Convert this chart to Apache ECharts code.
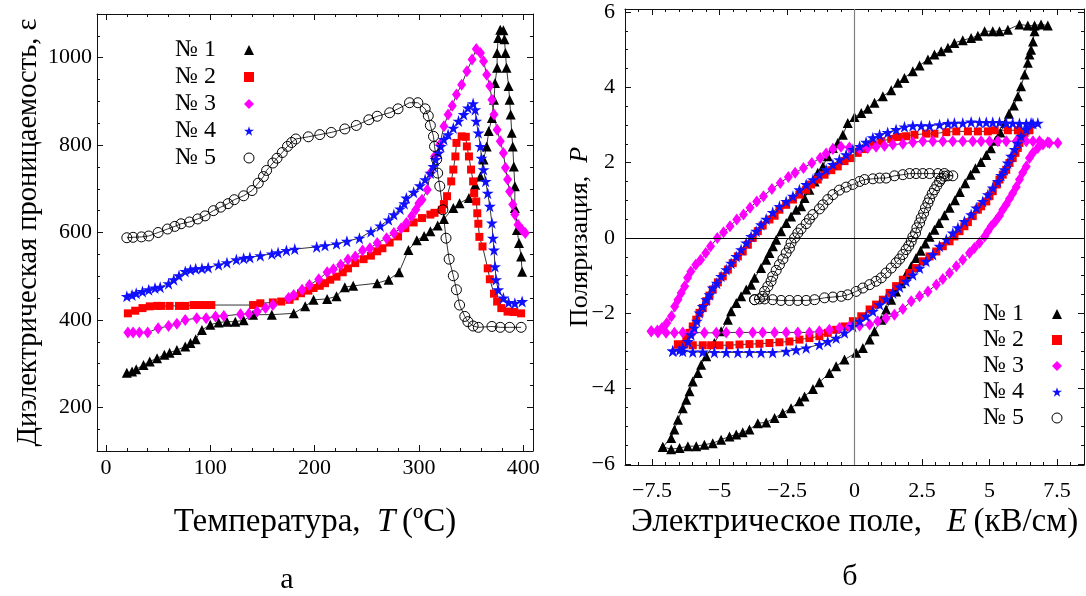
<!DOCTYPE html>
<html>
<head>
<meta charset="utf-8">
<script src="https://cdn.jsdelivr.net/npm/echarts@6/dist/echarts.min.js"></script>
<style>
  html, body { margin: 0; padding: 0; background: #fff; }
  #chart { width: 1086px; height: 596px; }
</style>
</head>
<body>
<div id="chart"></div>
<script>
// Sample labels
const sampleNames = ['№ 1', '№ 2', '№ 3', '№ 4', '№ 5'];

// (а) dielectric permittivity ε versus temperature T, °C — [T, ε]
const epsSample1 = [[20,279],[25,282],[29,287],[36,297],[42,305],[49,312],[56,320],[61,325],[68,331],[76,339],[81,347],[86,356],[92,377],[100,389],[108,394],[116,396],[124,396],[132,399],[141,412],[159,412],[180,415],[191,431],[199,446],[212,448],[221,454],[229,475],[237,478],[260,484],[271,492],[281,509],[290,560],[298,582],[305,592],[311,603],[318,616],[324,631],[333,656],[339,667],[348,679],[354,709],[359,728],[362,767],[365,797],[367,832],[370,862],[372,904],[373,942],[375,977],[375,1011],[376,1045],[378,1064],[381,1063],[382,1042],[383,1011],[384,977],[386,935],[387,904],[388,870],[389,828],[390,797],[391,751],[392,706],[392,656],[394,606],[396,576],[398,545],[399,510]];
const epsSample2 = [[21,415],[28,421],[35,427],[42,431],[49,432],[53,432],[61,432],[70,432],[76,432],[84,434],[90,434],[95,434],[101,434],[141,434],[148,438],[160,440],[168,442],[176,446],[181,454],[187,461],[194,467],[199,473],[205,478],[210,484],[215,492],[221,499],[227,509],[232,518],[239,530],[247,539],[254,547],[260,557],[265,564],[272,577],[280,591],[287,610],[295,623],[303,633],[311,641],[315,645],[322,652],[324,665],[327,683],[331,717],[333,744],[335,774],[336,805],[341,820],[345,819],[346,797],[348,774],[350,744],[352,717],[353,690],[355,671],[356,644],[357,620],[358,590],[361,568],[366,518],[368,493],[372,460],[375,442],[379,427],[385,419],[391,418],[398,415]];
const epsSample3 = [[21,371],[26,371],[32,371],[40,371],[50,381],[60,386],[68,391],[76,400],[87,404],[96,404],[105,408],[113,409],[129,413],[137,414],[145,419],[153,427],[160,434],[175,450],[180,457],[188,469],[195,480],[204,493],[212,509],[218,516],[225,526],[232,538],[239,545],[246,559],[253,564],[260,576],[269,587],[276,599],[283,610],[288,622],[293,637],[297,652],[300,667],[303,675],[308,698],[311,736],[315,774],[320,801],[324,843],[328,870],[332,890],[336,916],[341,938],[346,969],[351,996],[355,1020],[359,1011],[362,992],[365,961],[368,935],[370,904],[372,870],[375,835],[378,809],[381,782],[383,748],[385,721],[387,694],[390,664],[392,641],[395,618],[399,606],[402,599]];
const epsSample4 = [[20,454],[25,457],[29,461],[35,465],[41,469],[47,473],[52,475],[60,483],[65,492],[70,501],[76,511],[81,515],[86,517],[92,518],[98,520],[108,526],[116,531],[125,538],[132,541],[138,543],[148,547],[159,551],[165,554],[173,559],[181,562],[202,567],[210,570],[221,574],[231,580],[243,587],[254,602],[263,615],[271,629],[276,641],[282,654],[286,666],[288,679],[295,692],[301,707],[306,721],[311,736],[314,751],[316,767],[319,782],[321,797],[324,813],[328,824],[333,839],[338,855],[343,870],[347,885],[352,895],[354,881],[355,855],[357,828],[359,797],[360,770],[362,744],[364,717],[366,690],[368,660],[370,622],[371,587],[372,560],[373,522],[374,492],[376,469],[381,450],[386,440],[392,438],[399,442]];
const epsSample5 = [[20,588],[26,589],[34,590],[41,592],[50,600],[59,608],[66,614],[72,620],[80,624],[88,631],[95,638],[103,650],[110,658],[117,666],[123,675],[132,684],[140,696],[146,713],[151,728],[154,742],[160,759],[164,770],[169,783],[174,797],[178,806],[182,814],[194,819],[205,824],[216,829],[229,837],[240,845],[252,858],[260,866],[272,874],[280,883],[291,897],[299,897],[306,883],[309,867],[311,845],[314,820],[315,797],[317,767],[318,736],[320,706],[323,652],[326,587],[329,539],[333,501],[336,469],[339,434],[344,408],[347,396],[352,386],[357,383],[370,385],[378,383],[387,383],[398,383]];

// (б) polarization P versus electric field E, kV/cm — [E, P], traced round each loop
const polSample1 = [[-7.10,-5.55],[-6.79,-5.31],[-6.67,-5.09],[-6.54,-4.83],[-6.36,-4.52],[-6.23,-4.30],[-6.11,-4.07],[-5.99,-3.81],[-5.80,-3.59],[-5.68,-3.37],[-5.49,-3.14],[-5.19,-2.79],[-4.94,-2.48],[-4.69,-2.17],[-4.57,-1.95],[-4.38,-1.73],[-4.20,-1.55],[-4.01,-1.37],[-3.83,-1.24],[-3.70,-1.06],[-3.46,-0.80],[-3.27,-0.58],[-3.15,-0.40],[-3.02,-0.22],[-2.90,-0.05],[-2.72,0.18],[-2.53,0.40],[-2.35,0.57],[-2.16,0.75],[-1.98,0.84],[-1.85,1.06],[-1.67,1.28],[-1.48,1.50],[-1.36,1.73],[-1.17,1.90],[-0.99,2.17],[-0.80,2.39],[-0.62,2.52],[-0.43,2.74],[-0.25,3.05],[0,3.21],[0.25,3.32],[0.49,3.43],[0.74,3.59],[1.05,3.76],[1.36,3.92],[1.61,4.12],[1.85,4.25],[2.16,4.43],[2.41,4.58],[2.72,4.74],[2.96,4.87],[3.21,4.96],[3.46,5.05],[3.70,5.18],[4.01,5.25],[4.32,5.31],[4.57,5.37],[4.82,5.49],[5.12,5.49],[5.37,5.49],[5.68,5.53],[6.11,5.67],[6.42,5.64],[6.67,5.64],[6.91,5.67],[7.16,5.64],[6.67,5.49],[6.61,5.22],[6.54,5.00],[6.48,4.87],[6.42,4.65],[6.30,4.34],[6.17,4.03],[6.05,3.76],[5.90,3.52],[5.72,3.30],[5.58,3.05],[5.40,2.80],[5.22,2.58],[5.05,2.38],[4.88,2.20],[4.68,2.02],[4.48,1.85],[4.30,1.68],[4.10,1.45],[3.90,1.22],[3.72,1.00],[3.52,0.80],[3.33,0.60],[3.13,0.40],[2.96,0.22],[2.78,0.03],[2.62,-0.15],[2.45,-0.34],[2.28,-0.53],[2.10,-0.75],[1.91,-0.97],[1.73,-1.20],[1.54,-1.42],[1.36,-1.64],[1.17,-1.90],[0.99,-2.17],[0.74,-2.48],[0.56,-2.70],[0.31,-2.92],[0.06,-3.05],[-0.37,-3.23],[-0.68,-3.41],[-0.93,-3.59],[-1.30,-3.83],[-1.54,-4.01],[-1.85,-4.21],[-2.04,-4.34],[-2.35,-4.52],[-2.66,-4.65],[-2.96,-4.78],[-3.27,-4.90],[-3.58,-4.92],[-3.89,-5.09],[-4.14,-5.16],[-4.38,-5.22],[-4.63,-5.27],[-4.94,-5.36],[-5.25,-5.45],[-5.56,-5.49],[-5.86,-5.53],[-6.17,-5.53],[-6.48,-5.58],[-6.79,-5.61],[-7.10,-5.55]];
const polSample2 = [[-6.54,-2.83],[-6.30,-2.83],[-5.99,-2.85],[-5.62,-2.85],[-5.31,-2.85],[-5.00,-2.85],[-4.63,-2.85],[-4.26,-2.83],[-3.89,-2.82],[-3.52,-2.81],[-3.15,-2.79],[-2.78,-2.77],[-2.41,-2.75],[-2.04,-2.70],[-1.67,-2.66],[-1.30,-2.61],[-0.99,-2.52],[-0.68,-2.44],[-0.37,-2.35],[-0.06,-2.21],[0.25,-2.08],[0.56,-1.90],[0.80,-1.77],[1.05,-1.64],[1.30,-1.46],[1.54,-1.28],[1.79,-1.11],[2.04,-0.93],[2.28,-0.80],[2.53,-0.62],[2.78,-0.49],[3.03,-0.36],[3.27,-0.22],[3.52,-0.09],[3.70,0.04],[3.89,0.18],[4.07,0.31],[4.20,0.42],[4.38,0.58],[4.57,0.75],[4.69,0.84],[4.88,0.97],[5.00,1.11],[5.12,1.24],[5.27,1.42],[5.37,1.55],[5.49,1.68],[5.62,1.81],[5.74,1.99],[5.86,2.12],[5.96,2.26],[6.05,2.39],[6.11,2.52],[6.17,2.66],[6.30,2.79],[6.48,2.86],[6.05,2.86],[5.68,2.86],[5.19,2.86],[4.94,2.83],[4.57,2.83],[4.20,2.83],[3.77,2.83],[3.40,2.81],[2.96,2.77],[2.65,2.77],[2.22,2.74],[1.91,2.70],[1.61,2.68],[1.36,2.63],[0.99,2.57],[0.68,2.48],[0.37,2.36],[0.12,2.26],[-0.12,2.12],[-0.37,2.04],[-0.62,1.90],[-0.86,1.80],[-1.11,1.68],[-1.36,1.55],[-1.61,1.42],[-1.79,1.28],[-2.04,1.15],[-2.28,1.02],[-2.53,0.88],[-2.78,0.75],[-2.96,0.59],[-3.15,0.49],[-3.40,0.33],[-3.58,0.18],[-3.77,0.00],[-3.95,-0.18],[-4.14,-0.36],[-4.32,-0.49],[-4.51,-0.67],[-4.69,-0.84],[-4.88,-1.02],[-5.06,-1.18],[-5.25,-1.37],[-5.37,-1.53],[-5.49,-1.68],[-5.62,-1.86],[-5.74,-1.99],[-5.86,-2.17],[-5.99,-2.35],[-6.11,-2.52],[-6.23,-2.66],[-6.54,-2.83]];
const polSample3 = [[-7.53,-2.48],[-7.28,-2.51],[-6.98,-2.52],[-6.67,-2.52],[-6.36,-2.51],[-5.99,-2.51],[-5.56,-2.52],[-5.12,-2.52],[-4.75,-2.51],[-4.26,-2.51],[-3.77,-2.51],[-3.40,-2.51],[-2.96,-2.51],[-2.53,-2.51],[-2.10,-2.51],[-1.67,-2.51],[-1.30,-2.48],[-0.93,-2.44],[-0.56,-2.39],[-0.19,-2.35],[0.19,-2.33],[0.56,-2.30],[0.86,-2.21],[1.17,-2.13],[1.48,-2.04],[1.79,-1.89],[2.10,-1.68],[2.41,-1.55],[2.72,-1.42],[3.03,-1.24],[3.27,-1.09],[3.52,-0.93],[3.77,-0.75],[4.01,-0.58],[4.26,-0.40],[4.44,-0.27],[4.63,-0.13],[4.82,0.04],[4.94,0.18],[5.06,0.31],[5.22,0.44],[5.37,0.59],[5.49,0.75],[5.62,0.89],[5.74,1.04],[5.86,1.19],[5.99,1.35],[6.11,1.55],[6.23,1.73],[6.36,1.90],[6.48,2.12],[6.61,2.26],[6.79,2.39],[6.98,2.48],[7.22,2.52],[7.53,2.52],[7.16,2.54],[6.85,2.57],[6.61,2.57],[6.36,2.57],[5.99,2.57],[5.62,2.57],[5.31,2.57],[5.00,2.57],[4.69,2.57],[4.38,2.57],[4.01,2.57],[3.64,2.57],[3.27,2.57],[2.90,2.57],[2.53,2.57],[2.16,2.54],[1.79,2.50],[1.42,2.48],[1.11,2.45],[0.80,2.42],[0.49,2.39],[0.19,2.36],[-0.19,2.40],[-0.50,2.42],[-0.80,2.36],[-1.05,2.24],[-1.27,2.12],[-1.58,1.99],[-1.89,1.86],[-2.20,1.73],[-2.45,1.62],[-2.75,1.46],[-3.06,1.30],[-3.37,1.11],[-3.62,0.97],[-3.87,0.80],[-4.11,0.62],[-4.36,0.49],[-4.61,0.31],[-4.85,0.15],[-5.08,0.00],[-5.33,-0.22],[-5.51,-0.40],[-5.70,-0.58],[-5.88,-0.71],[-6.06,-0.89],[-6.18,-1.06],[-6.29,-1.28],[-6.42,-1.46],[-6.54,-1.64],[-6.66,-1.82],[-6.78,-2.08],[-6.95,-2.26],[-7.13,-2.39],[-7.30,-2.46],[-7.53,-2.48]];
const polSample4 = [[-6.73,-3.00],[-6.36,-3.01],[-5.99,-3.03],[-5.62,-3.03],[-5.19,-3.04],[-4.75,-3.04],[-4.32,-3.04],[-3.89,-3.04],[-3.46,-3.04],[-3.03,-3.04],[-2.53,-3.01],[-2.16,-2.97],[-1.79,-2.92],[-1.30,-2.83],[-0.99,-2.75],[-0.68,-2.66],[-0.37,-2.52],[-0.06,-2.35],[0.19,-2.21],[0.43,-2.08],[0.68,-1.95],[0.93,-1.77],[1.17,-1.62],[1.42,-1.46],[1.67,-1.30],[1.91,-1.15],[2.16,-0.98],[2.41,-0.80],[2.65,-0.62],[2.90,-0.44],[3.15,-0.22],[3.40,-0.04],[3.64,0.13],[3.83,0.27],[4.07,0.44],[4.32,0.62],[4.51,0.80],[4.75,0.97],[4.94,1.15],[5.12,1.33],[5.31,1.50],[5.43,1.66],[5.56,1.81],[5.68,1.99],[5.80,2.17],[5.93,2.35],[6.05,2.52],[6.17,2.70],[6.36,2.88],[6.61,3.04],[6.79,3.05],[6.54,3.05],[6.36,3.04],[6.11,3.04],[5.86,3.05],[5.62,3.05],[5.37,3.07],[5.12,3.07],[4.88,3.07],[4.63,3.07],[4.32,3.08],[4.01,3.05],[3.70,3.05],[3.46,3.04],[3.15,3.01],[2.78,2.98],[2.47,2.98],[2.16,2.98],[1.85,2.95],[1.54,2.88],[1.23,2.80],[0.93,2.74],[0.68,2.66],[0.43,2.54],[0.19,2.43],[-0.06,2.35],[-0.31,2.21],[-0.56,2.08],[-0.80,1.95],[-1.05,1.81],[-1.30,1.68],[-1.54,1.55],[-1.79,1.42],[-2.04,1.28],[-2.28,1.11],[-2.53,0.97],[-2.78,0.84],[-3.03,0.68],[-3.27,0.50],[-3.46,0.35],[-3.64,0.18],[-3.83,0.04],[-4.01,-0.13],[-4.20,-0.31],[-4.38,-0.49],[-4.57,-0.67],[-4.75,-0.84],[-4.94,-1.02],[-5.10,-1.20],[-5.25,-1.33],[-5.37,-1.51],[-5.49,-1.64],[-5.62,-1.82],[-5.74,-1.99],[-5.84,-2.21],[-5.93,-2.39],[-6.05,-2.57],[-6.17,-2.75],[-6.36,-2.92],[-6.48,-2.98],[-6.73,-3.00]];
const polSample5 = [[-3.70,-1.64],[-3.33,-1.62],[-3.03,-1.64],[-2.72,-1.66],[-2.41,-1.66],[-2.10,-1.66],[-1.79,-1.66],[-1.48,-1.64],[-1.11,-1.59],[-0.80,-1.57],[-0.49,-1.55],[-0.25,-1.51],[0.06,-1.42],[0.31,-1.33],[0.56,-1.24],[0.80,-1.15],[0.99,-1.06],[1.17,-0.93],[1.36,-0.80],[1.54,-0.66],[1.67,-0.56],[1.79,-0.44],[1.91,-0.31],[2.01,-0.21],[2.10,-0.09],[2.16,0.03],[2.26,0.13],[2.31,0.27],[2.41,0.40],[2.47,0.53],[2.56,0.66],[2.63,0.80],[2.72,0.93],[2.78,1.04],[2.88,1.18],[2.96,1.28],[3.05,1.39],[3.15,1.50],[3.21,1.57],[3.33,1.64],[3.46,1.65],[3.64,1.65],[3.33,1.71],[3.09,1.71],[2.78,1.71],[2.53,1.71],[2.28,1.71],[2.04,1.71],[1.79,1.68],[1.48,1.65],[1.17,1.59],[0.93,1.59],[0.68,1.57],[0.37,1.55],[0.19,1.50],[-0.06,1.42],[-0.31,1.35],[-0.56,1.27],[-0.80,1.15],[-0.99,1.02],[-1.17,0.88],[-1.30,0.77],[-1.54,0.62],[-1.67,0.50],[-1.79,0.38],[-1.98,0.24],[-2.10,0.13],[-2.22,0.00],[-2.35,-0.13],[-2.41,-0.27],[-2.53,-0.40],[-2.65,-0.56],[-2.78,-0.71],[-2.90,-0.86],[-3.03,-1.02],[-3.09,-1.15],[-3.21,-1.29],[-3.33,-1.42],[-3.40,-1.55],[-3.52,-1.62],[-3.70,-1.64]];

// Tick label values
const tempTicks = [0, 100, 200, 300, 400];
const epsTicks = [200, 400, 600, 800, 1000];
const fieldTicks = [-7.5, -5, -2.5, 0, 2.5, 5, 7.5];
const polTicks = [-6, -4, -2, 0, 2, 4, 6];

const FONT = 'Liberation Serif';
const INK = '#111';
const STAR = 'path://M50,0 L61.2,34.5 L97.6,34.5 L68.2,55.9 L79.4,90.5 L50,69.1 L20.6,90.5 L31.8,55.9 L2.4,34.5 L38.8,34.5 Z';

const markers = [
  { symbol: 'triangle', symbolSize: [10, 10], itemStyle: { color: '#000' } },
  { symbol: 'rect',     symbolSize: [8, 8],   itemStyle: { color: '#ff0000' } },
  { symbol: 'diamond',  symbolSize: [9, 12],  itemStyle: { color: '#ff00ff' } },
  { symbol: STAR,       symbolSize: [12, 12], itemStyle: { color: '#1010ff' } },
  { symbol: 'circle',   symbolSize: [10, 10], itemStyle: { color: 'rgba(0,0,0,0)', borderColor: '#000', borderWidth: 1 } }
];

function steps(from, to, step) {
  const out = [];
  for (let v = from; v <= to + 1e-9; v += step) out.push(Math.round(v * 1000) / 1000);
  return out;
}
const plain = v => String(v);
const withMinus = v => String(v).replace('-', '\u2212');

// Four axes per side pair: labelled main axis, its minor ticks, and the mirrored frame edge with ticks
function frameAxes(grid, min, max, major, minor, mainPos, oppPos, label, nameOpts) {
  const base = { type: 'value', gridIndex: grid, min, max, splitLine: { show: false }, silent: true };
  const line = { show: true, onZero: false, lineStyle: { color: INK, width: 1 } };
  const noLine = { show: false, onZero: false };
  const majorTick = { show: true, inside: true, length: 6, customValues: major, lineStyle: { color: INK, width: 1 } };
  const minorTick = { show: true, inside: true, length: 3, customValues: minor, lineStyle: { color: INK, width: 1 } };
  return [
    Object.assign({}, base, { position: mainPos, axisLine: line, axisTick: majorTick,
      axisLabel: Object.assign({ customValues: major, color: '#000', fontFamily: FONT, fontSize: 22 }, label) }, nameOpts),
    Object.assign({}, base, { position: mainPos, axisLine: noLine, axisTick: minorTick, axisLabel: { show: false } }),
    Object.assign({}, base, { position: oppPos, axisLine: line, axisTick: majorTick, axisLabel: { show: false } }),
    Object.assign({}, base, { position: oppPos, axisLine: noLine, axisTick: minorTick, axisLabel: { show: false } })
  ];
}

function titleStyle(size) {
  return {
    fontFamily: FONT, fontSize: size, color: '#000',
    rich: { i: { fontFamily: FONT, fontSize: size, fontStyle: 'italic', color: '#000' } }
  };
}

const xAxes = [].concat(
  frameAxes(0, -8.6, 409.4, tempTicks, steps(0, 400, 20), 'bottom', 'top',
    { margin: 6, formatter: plain },
    { name: 'Температура,  {i|T}\u2009(ºC)', nameLocation: 'middle', nameGap: 55, nameMoveOverlap: false, nameTextStyle: titleStyle(33) }),
  frameAxes(1, -8.5, 8.5, fieldTicks, steps(-8.5, 8.5, 0.5), 'bottom', 'top',
    { margin: 15, formatter: withMinus },
    { name: 'Электрическое поле,   {i|E}\u2009(кВ/см)', nameLocation: 'middle', nameGap: 41, nameMoveOverlap: false, nameTextStyle: titleStyle(33) })
);
const yAxes = [].concat(
  frameAxes(0, 100, 1100, epsTicks, steps(100, 1100, 50), 'left', 'right',
    { margin: 5, formatter: plain },
    { name: 'Диэлектрическая проницаемость, ε', nameLocation: 'middle', nameGap: 54, nameMoveOverlap: false, nameTextStyle: titleStyle(28.5) }),
  frameAxes(1, -6.03, 6.08, polTicks, steps(-6, 6, 0.5), 'left', 'right',
    { margin: 10, formatter: withMinus },
    { name: 'Поляризация,  {i|P}', nameLocation: 'middle', nameGap: 32, nameMoveOverlap: false, nameTextStyle: titleStyle(26) })
);

function makeSeries(name, data, k, axisBase) {
  return Object.assign({
    type: 'line', name, data,
    xAxisIndex: axisBase, yAxisIndex: axisBase,
    showAllSymbol: true, animation: false,
    lineStyle: { color: '#000', width: 0.8 },
    emphasis: { disabled: true }
  }, markers[k]);
}

const epsSets = [epsSample1, epsSample2, epsSample3, epsSample4, epsSample5];
const polSets = [polSample1, polSample2, polSample3, polSample4, polSample5];
const series = [];
epsSets.forEach((d, k) => series.push(makeSeries(sampleNames[k], d, k, 0)));
polSets.forEach((d, k) => series.push(makeSeries(sampleNames[k], d, k, 4)));

// Zero reference lines through the origin of the polarization plot
series[5].markLine = {
  silent: true, symbol: ['none', 'none'], label: { show: false }, animation: false,
  data: [
    { xAxis: 0, lineStyle: { color: '#808080', width: 1.2, type: 'solid' } },
    { yAxis: 0, lineStyle: { color: '#000', width: 1, type: 'solid' } }
  ]
};

function legendAt(left, top, gap) {
  return {
    left, top, padding: 0, orient: 'vertical', align: 'right', selectedMode: false,
    itemWidth: 10, itemHeight: 10, itemGap: gap,
    data: sampleNames.map((n, k) => ({ name: n, icon: markers[k].symbol, itemStyle: markers[k].itemStyle })),
    formatter: n => '{t|' + n + '}',
    textStyle: {
      fontFamily: FONT, fontSize: 24, color: '#000', lineHeight: 22,
      rich: { t: { fontFamily: FONT, fontSize: 24, color: '#000', width: 64, align: 'left', lineHeight: 22 } }
    }
  };
}

const chart = echarts.init(document.getElementById('chart'), null, { renderer: 'canvas' });
chart.setOption({
  animation: false,
  backgroundColor: '#fff',
  textStyle: { fontFamily: FONT },
  grid: [
    { left: 97, top: 14, width: 436, height: 437, outerBoundsMode: 'none' },
    { left: 625, top: 9, width: 459, height: 456, outerBoundsMode: 'none' }
  ],
  legend: [legendAt(175, 38, 3), legendAt(983, 302, 2)],
  xAxis: xAxes,
  yAxis: yAxes,
  series,
  graphic: [
    { type: 'text', x: 287, y: 580, style: { text: 'а', font: '30px "Liberation Serif"', fill: '#000', align: 'center', verticalAlign: 'middle' } },
    { type: 'text', x: 850, y: 577, style: { text: 'б', font: '30px "Liberation Serif"', fill: '#000', align: 'center', verticalAlign: 'middle' } }
  ]
});
</script>
</body>
</html>
